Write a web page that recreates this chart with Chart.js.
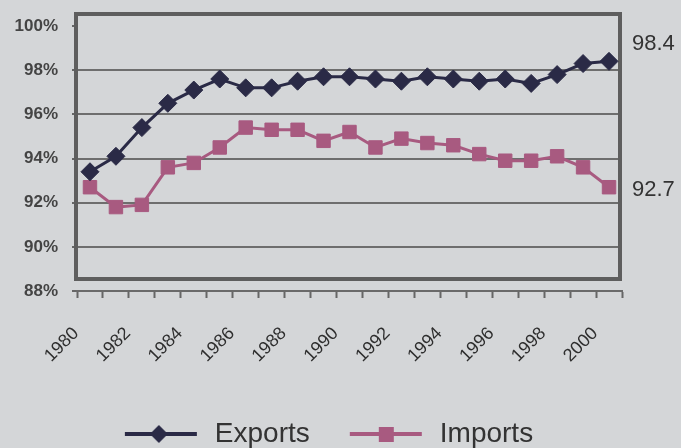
<!DOCTYPE html>
<html>
<head>
<meta charset="utf-8">
<script src="https://cdn.jsdelivr.net/npm/chart.js@4.4.1/dist/chart.umd.min.js"></script>
<style>
html, body { margin: 0; padding: 0; background: #d4d6d8; }
#wrap { width: 681px; height: 448px; }
</style>
</head>
<body>
<div id="wrap"><canvas id="chart1" width="681" height="448"></canvas></div>
<script>
'use strict'

const YEARS = ['1980', '1981', '1982', '1983', '1984', '1985', '1986', '1987', '1988', '1989', '1990',
	'1991', '1992', '1993', '1994', '1995', '1996', '1997', '1998', '1999', '2000']
const EXPORTS = [93.4, 94.1, 95.4, 96.5, 97.1, 97.6, 97.2, 97.2, 97.5, 97.7, 97.7,
	97.6, 97.5, 97.7, 97.6, 97.5, 97.6, 97.4, 97.8, 98.3, 98.4]
const IMPORTS = [92.7, 91.8, 91.9, 93.6, 93.8, 94.5, 95.4, 95.3, 95.3, 94.8, 95.2,
	94.5, 94.9, 94.7, 94.6, 94.2, 93.9, 93.9, 94.1, 93.6, 92.7]
const Y_MIN = 88
const Y_MAX = 100

const EXPORT_COLOR = '#2a2a46'
const IMPORT_COLOR = '#a85a80'
const FONT = 'Liberation Sans, Arial, sans-serif'

// line + marker sample used as the legend symbol (blank strip on the left keeps the items apart)
const legendIcon = function(color, shape) {
	const c = document.createElement('canvas')
	c.width = 112
	c.height = 22
	const g = c.getContext('2d')
	g.strokeStyle = color
	g.fillStyle = color
	g.lineWidth = 4
	g.beginPath()
	g.moveTo(36, 11)
	g.lineTo(108, 11)
	g.stroke()
	if (shape === 'diamond') {
		g.beginPath()
		g.moveTo(70, 2)
		g.lineTo(79, 11)
		g.lineTo(70, 20)
		g.lineTo(61, 11)
		g.closePath()
		g.fill()
	} else {
		g.fillRect(65, 4, 15, 15)
	}
	return c
}

// thick frame round the plot, printed a little above the axis
const framePlugin = {
	id: 'frame',
	beforeDatasetsDraw(chart) {
		const {ctx, chartArea} = chart
		ctx.save()
		ctx.strokeStyle = '#5e5e5e'
		ctx.lineWidth = 4
		ctx.strokeRect(chartArea.left - 1, chartArea.top - 12, chartArea.right - chartArea.left - 1, chartArea.bottom - chartArea.top)
		ctx.restore()
	}
}

// last value written to the right of the plot
const LAST_SHIFT = [-17, 3]
const lastValuePlugin = {
	id: 'lastValue',
	afterDatasetsDraw(chart) {
		const {ctx, chartArea} = chart
		ctx.save()
		ctx.font = '22px ' + FONT
		ctx.fillStyle = '#333'
		ctx.textBaseline = 'middle'
		chart.data.datasets.forEach((ds, i) => {
			const meta = chart.getDatasetMeta(i)
			const pt = meta.data[meta.data.length - 1]
			ctx.fillText(ds.data[ds.data.length - 1].toFixed(1), chartArea.right + 10, pt.y + LAST_SHIFT[i])
		})
		ctx.restore()
	}
}

const ctx = document.getElementById('chart1').getContext('2d')
const tradeChart = new Chart(ctx, {
	type: 'line',
	data: {
		labels: YEARS,
		datasets: [{
			label: 'Exports',
			data: EXPORTS,
			borderColor: EXPORT_COLOR,
			backgroundColor: EXPORT_COLOR,
			borderWidth: 3,
			pointStyle: 'rectRot',
			pointRadius: 9,
			pointBorderWidth: 1,
			tension: 0
		}, {
			label: 'Imports',
			data: IMPORTS,
			borderColor: IMPORT_COLOR,
			backgroundColor: IMPORT_COLOR,
			borderWidth: 3,
			pointStyle: 'rect',
			pointRadius: 9.5,
			pointBorderWidth: 1,
			tension: 0
		}]
	},
	options: {
		responsive: false,
		animation: false,
		layout: {
			padding: { top: 26, right: 59, left: 0, bottom: -10 }
		},
		scales: {
			x: {
				offset: true,
				grid: {
					offset: true,
					drawOnChartArea: false,
					drawTicks: true,
					tickLength: 7,
					tickColor: '#666',
					tickWidth: 2
				},
				border: { display: true, color: '#6a6a6a', width: 2 },
				ticks: {
					autoSkip: false,
					minRotation: 45,
					maxRotation: 45,
					padding: 25,
					labelOffset: -14,
					color: '#2e2e2e',
					font: { family: FONT, size: 18 },
					callback: function(val, i) {
						return i % 2 === 0 ? this.getLabelForValue(val) : ''
					}
				},
				afterFit(scale) {
					scale.height = 125
				}
			},
			y: {
				min: Y_MIN,
				max: Y_MAX,
				grid: {
					color: (c) => (c.tick.value === Y_MAX || c.tick.value === Y_MIN) ? 'rgba(0,0,0,0)' : '#6e6e6e',
					lineWidth: 2,
					tickColor: '#666',
					tickLength: 5
				},
				border: { display: false },
				ticks: {
					stepSize: 2,
					padding: 14,
					color: '#444',
					font: { family: FONT, size: 17, weight: 'bold' },
					callback: (v) => v + '%'
				},
				afterFit(scale) {
					scale.width = 77
				}
			}
		},
		plugins: {
			legend: {
				display: true,
				position: 'bottom',
				labels: {
					usePointStyle: true,
					pointStyleWidth: 112,
					padding: 4,
					color: '#333',
					font: { family: FONT, size: 28 },
					generateLabels(chart) {
						return chart.data.datasets.map((ds, i) => ({
							text: ds.label,
							pointStyle: legendIcon(ds.borderColor, i === 0 ? 'diamond' : 'square'),
							fillStyle: ds.borderColor,
							strokeStyle: ds.borderColor,
							lineWidth: 0,
							fontColor: '#333',
							datasetIndex: i
						}))
					}
				}
			},
			tooltip: { enabled: false }
		}
	},
	plugins: [framePlugin, lastValuePlugin]
})
</script>
</body>
</html>
